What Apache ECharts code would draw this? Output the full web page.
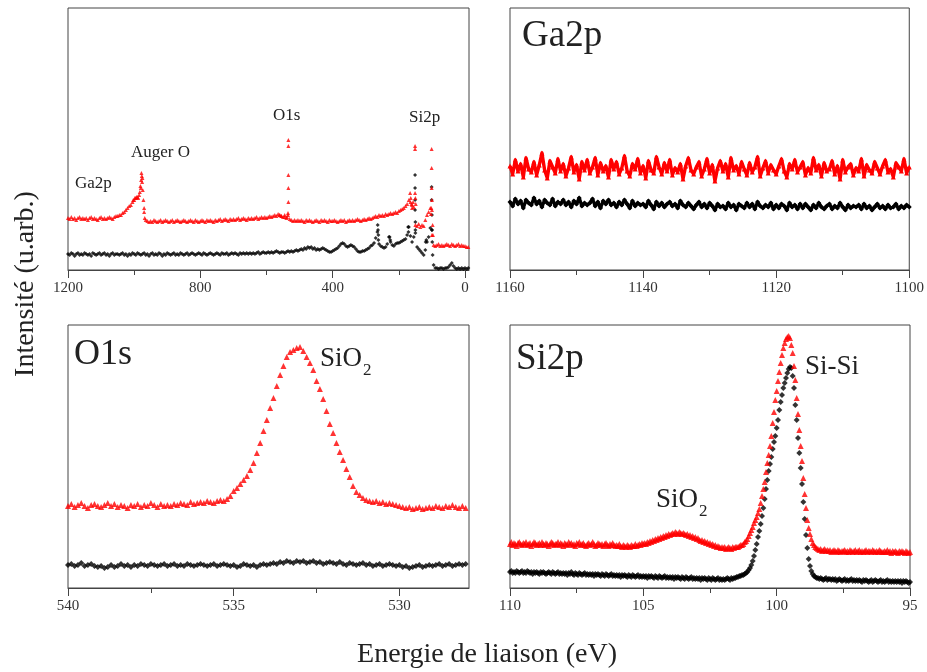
<!DOCTYPE html>
<html><head><meta charset="utf-8">
<script src="https://cdn.jsdelivr.net/npm/echarts@6.0.0/dist/echarts.min.js"></script>
<style>html,body{margin:0;padding:0;background:#fff}#c{width:927px;height:672px}</style>
</head><body><div id="c"></div>
<script>
// ---------- DATA ----------
// Survey (energy grid from 1200 eV downward, step 5 eV)
const surveyStart = 1200, surveyStep = 5;
const surveyRed = [
52,51,53,51,52,50,52,53,51,52,
51,52,50,52,53,51,52,51,50,52,
53,51,52,51,52,53,52,51,53,54,
54,55,55,57,58,60,62,64,65,68,
70,72,73,75,82,92,62,50,49,48,
49,48,50,49,48,49,50,48,49,50,
49,48,49,50,48,49,50,49,48,49,
50,49,48,49,50,49,48,50,49,48,
49,50,49,48,50,49,50,49,48,50,
49,50,51,49,50,51,50,49,51,50,
51,50,51,52,50,51,52,51,50,52,
51,52,51,52,53,51,52,53,52,53,
52,53,54,53,54,55,54,56,55,54,
53,53,52,55,51,50,49,50,49,50,
49,50,49,48,50,49,50,49,48,49,
50,49,48,50,49,50,49,48,50,49,
49,50,49,48,49,50,49,50,48,49,
50,49,50,49,50,51,50,49,50,51,
50,51,52,51,52,53,54,53,55,54,
55,54,56,55,56,57,56,57,58,57,
59,60,61,62,64,66,70,68,65,63,
45,44,46,43,45,44,50,55,58,62,
35,25,24,25,26,24,25,24,25,26,
25,24,26,25,24,25,26,24,25,24,
24,23,23];
const surveyRedPeaks = [[1003,70],[998,72],[993,73],[988,72],[983,78],[981,84],[979,90],[978,97],[977,94],[976,88],[974,80],[972,70],[970,58],[968,52],
[560,55],[555,54],[545,55],[538,53],[534,130],[534,124],[534,95],[534,82],[534,68],[535,57],
[166,77],[164,72],[162,66],[160,62],[157,68],[151,124],[151,121],[151,77],[150,72],[149,66],
[103,56],[102,62],[101,121],[101,102],[101,82],[100,70],[100,60],[98,45],[97,35]];
const surveyBlack = [
16,15,17,16,14,16,17,15,16,15,
17,16,15,16,14,17,16,15,16,17,
15,16,17,15,16,14,16,17,15,16,
16,15,16,17,15,16,14,16,15,17,
16,15,17,16,15,16,17,15,16,14,
16,17,15,16,15,17,16,14,16,15,
17,16,15,16,17,15,16,15,17,16,
15,16,17,15,16,17,16,15,16,17,
16,15,17,16,15,16,17,16,15,16,
17,16,15,17,16,16,17,15,16,17,
16,17,16,15,17,16,17,16,17,16,
17,16,17,16,17,18,16,17,18,17,
17,18,17,18,17,18,19,18,17,18,
18,17,18,19,18,19,18,19,20,19,
20,21,20,22,21,23,22,23,21,22,
20,21,20,21,22,21,20,19,18,18,
19,20,21,22,24,26,27,26,24,23,
24,25,24,23,21,19,18,18,19,19,
20,21,22,24,25,27,32,38,26,24,
23,22,23,26,33,28,25,24,26,27,
27,28,29,30,31,35,43,34,28,33,
40,23,21,19,17,15,20,28,33,42,
40,5,2,2,1,2,2,1,2,2,
3,5,7,4,2,1,2,1,2,1,
2,1,2];
const surveyBlackPeaks = [[264,45],[263,40],[262,35],[262,30],[228,33],[226,30],[172,43],[171,38],
[151,95],[151,82],[151,70],[151,60],[150,48],[150,37],[119,28],[117,30],
[101,83],[101,70],[100,55],[100,40],[99,28],[98,15]];

// Ga2p (from 1160 eV downward, step 0.4 eV)
const ga2pStart = 1160, ga2pStep = 0.4;
const ga2pRed = [
104,96,110,99,106,93,112,101,98,108,
95,105,117,100,92,109,103,97,111,99,
106,94,102,113,98,105,91,108,100,110,
97,103,112,95,107,99,104,93,110,101,
108,96,102,114,99,94,106,101,111,97,
104,92,109,100,97,113,103,96,107,99,
110,95,102,98,106,91,104,112,100,96,
103,108,94,101,111,97,105,89,102,109,
99,106,93,112,100,104,96,108,101,95,
107,98,103,113,94,102,109,97,105,100,
96,104,111,99,93,106,101,110,98,103,
108,95,102,97,112,100,105,94,107,99,
101,109,96,104,91,110,98,103,106,95,
102,99,111,94,105,100,97,108,102,96,
104,110,98,101,93,107,103,99,111,97,
103];
const ga2pBlack = [
68,64,71,66,69,62,70,67,65,72,
66,69,63,70,67,65,71,64,68,66,
70,65,68,63,69,66,72,64,67,65,
67,71,64,68,62,69,66,70,65,67,
63,68,65,70,66,62,69,64,67,65,
66,63,69,65,61,68,64,67,63,66,
68,64,66,62,69,65,63,67,64,61,
65,68,63,66,62,67,64,60,66,63,
64,61,67,63,65,60,66,64,62,67,
63,66,61,68,64,62,65,63,67,61,
65,62,66,64,60,67,63,65,61,66,
62,66,63,60,65,62,67,63,61,64,
66,61,64,62,67,63,60,65,62,64,
63,65,61,66,62,64,60,63,66,62,
64,61,65,62,63,66,61,64,62,65,
63];

// O1s (from 540 eV downward, step 0.1 eV)
const o1sStart = 540, o1sStep = 0.1;
const o1sRed = [
82,84,81,83,85,82,80,83,84,82,
81,83,85,82,84,81,83,82,80,83,
82,84,81,83,82,85,83,81,84,82,
83,82,84,83,85,84,83,86,84,85,
86,85,87,86,85,87,88,87,89,92,
97,100,104,108,112,118,125,135,145,157,
168,180,190,202,213,222,231,236,238,240,
241,237,231,225,218,207,199,189,177,164,
155,145,136,128,119,111,102,96,93,90,
88,87,86,87,85,86,84,85,84,83,
82,81,80,81,79,80,81,79,80,81,
80,82,81,80,82,81,83,81,80,82,
80];
const o1sBlack = [
23,24,22,23,25,22,23,24,22,21,
22,20,21,23,21,22,24,22,23,21,
23,22,24,23,22,24,23,22,23,24,
22,23,24,22,23,22,24,23,22,23,
24,23,22,23,24,22,23,24,23,22,
23,21,22,24,23,22,23,21,23,24,
23,24,25,24,26,25,27,26,25,27,
26,27,25,26,27,25,26,24,25,26,
25,24,26,24,23,25,24,23,24,25,
23,24,22,23,24,22,23,24,23,22,
23,21,22,20,21,22,23,21,22,23,
22,23,24,22,23,24,22,23,24,23,
24];

// Si2p (from 110 eV downward, step 0.05 eV)
const si2pStart = 110, si2pStep = 0.05;
const si2pRed = [
44,46,43,45,44,42,45,46,44,43,
45,44,46,43,44,45,42,44,46,45,
43,44,45,43,46,44,43,45,44,42,
44,46,45,43,44,44,46,43,45,44,
42,45,44,43,46,44,45,43,44,42,
45,44,46,43,44,45,43,42,44,45,
43,44,46,44,42,43,45,44,43,44,
42,44,45,43,42,44,43,45,43,42,
43,42,44,42,41,43,42,41,43,42,
41,43,42,42,44,42,43,44,43,45,
44,45,44,46,45,47,46,48,47,49,
48,50,49,51,50,52,51,53,52,54,
53,54,55,54,56,55,54,56,55,54,
55,54,53,54,52,53,51,52,50,51,
49,50,48,47,48,46,47,45,46,44,
45,43,44,42,43,41,42,41,40,41,
40,41,39,40,41,40,39,41,40,41,
41,41,42,43,43,44,46,47,49,52,
55,58,61,65,68,71,75,79,85,92,
99,106,116,125,133,142,152,165,176,188,
197,207,216,225,233,240,245,249,251,252,
250,243,235,222,208,190,174,158,142,127,
110,94,80,68,60,54,49,45,43,41,
40,39,38,39,37,38,39,37,38,37,
38,36,37,38,37,36,38,37,36,37,
37,38,36,37,36,38,37,36,37,38,
36,37,38,36,37,36,37,38,36,37,
37,36,38,37,36,37,36,38,37,36,
36,37,36,38,36,37,35,37,36,37,
36,35,37,36,37,36,35,37,36,35,
36];
const si2pBlack = [
16,17,15,16,15,17,16,15,16,17,
15,16,15,17,16,15,16,14,16,15,
16,15,14,16,15,16,15,14,15,16,
15,14,16,15,14,15,16,14,15,14,
15,14,15,13,15,14,16,14,13,15,
14,13,15,14,13,14,15,13,14,13,
14,13,14,12,14,13,14,13,12,14,
13,12,14,13,12,13,14,12,13,12,
13,12,13,11,13,12,13,12,11,13,
12,11,13,12,11,12,13,11,12,11,
12,11,12,10,12,11,12,11,10,12,
11,10,12,11,10,11,12,10,11,10,
11,10,11,9,11,10,11,10,9,11,
10,9,11,10,9,10,11,9,10,9,
10,9,10,8,10,9,10,9,8,10,
9,8,10,9,8,9,10,8,9,8,
9,8,9,10,9,8,10,9,10,10,
11,11,12,12,13,13,14,15,16,18,
20,23,27,32,38,44,51,57,64,72,
80,89,99,108,117,124,131,139,146,152,
160,168,178,186,193,200,205,210,215,219,
221,220,212,200,183,168,150,135,120,104,
86,69,53,40,29,22,17,14,12,11,
10,10,9,10,9,8,9,10,8,9,
9,8,9,8,9,7,8,9,8,7,
8,9,7,8,7,8,9,7,8,7,
8,7,8,7,6,8,7,8,7,6,
7,8,6,7,8,7,6,7,8,6,
7,6,7,8,6,7,6,7,6,7,
6,7,6,7,5,7,6,7,6,5,
6];

// Tick values
const surveyLabelTicks = [1200, 800, 400, 0];
const surveyAllTicks = [1200, 1000, 800, 600, 400, 200, 0];
const ga2pLabelTicks = [1160, 1140, 1120, 1100];
const ga2pAllTicks = [1160, 1150, 1140, 1130, 1120, 1110, 1100];
const o1sLabelTicks = [540, 535, 530];
const o1sAllTicks = [540, 537.5, 535, 532.5, 530];
const si2pLabelTicks = [110, 105, 100, 95];
const si2pAllTicks = [110, 107.5, 105, 102.5, 100, 97.5, 95];

// ---------- BUILD ----------
const FONT = '"Liberation Serif", "Times New Roman", serif';
const AX = '#444';
function onGrid(start, step, vals) {
  return vals.map((v, i) => [+(start - step * i).toFixed(3), v]);
}
const panels = [
  {left: 68, top: 8, width: 401, height: 262, min: -12, max: 1200, ymax: 262, lab: surveyLabelTicks, all: surveyAllTicks,
   red: onGrid(surveyStart, surveyStep, surveyRed).concat(surveyRedPeaks),
   black: onGrid(surveyStart, surveyStep, surveyBlack).concat(surveyBlackPeaks), size: 4, line: 0},
  {left: 510, top: 8, width: 400, height: 262, min: 1100, max: 1160, ymax: 262, lab: ga2pLabelTicks, all: ga2pAllTicks,
   red: onGrid(ga2pStart, ga2pStep, ga2pRed), black: onGrid(ga2pStart, ga2pStep, ga2pBlack), size: 5, line: 3.4},
  {left: 68, top: 325, width: 401, height: 263, min: 527.9, max: 540, ymax: 263, lab: o1sLabelTicks, all: o1sAllTicks,
   red: onGrid(o1sStart, o1sStep, o1sRed), black: onGrid(o1sStart, o1sStep, o1sBlack), size: 6, line: 0},
  {left: 510, top: 325, width: 400, height: 263, min: 95, max: 110, ymax: 263, lab: si2pLabelTicks, all: si2pAllTicks,
   red: onGrid(si2pStart, si2pStep, si2pRed), black: onGrid(si2pStart, si2pStep, si2pBlack), size: 6, line: 0}
];

const grid = [], xAxis = [], yAxis = [], series = [];
function mkSeries(p, i, data, color, symbol, z) {
  const s = {type: p.line ? 'line' : 'scatter', xAxisIndex: 2 * i, yAxisIndex: i, data: data, symbol: symbol,
    symbolSize: p.size, itemStyle: {color: color}, silent: true, z: z};
  if (p.line) { s.showSymbol = true; s.showAllSymbol = true; s.lineStyle = {color: color, width: p.line, join: 'round'}; }
  return s;
}
panels.forEach((p, i) => {
  grid.push({left: p.left, top: p.top, width: p.width, height: p.height, show: true,
    borderColor: AX, borderWidth: 1, backgroundColor: 'transparent'});
  xAxis.push({type: 'value', gridIndex: i, inverse: true, min: p.min, max: p.max, position: 'bottom',
    axisLine: {show: true, onZero: false, lineStyle: {color: AX, width: 1}},
    axisTick: {show: true, length: 8, customValues: p.lab, lineStyle: {color: AX}},
    axisLabel: {customValues: p.lab, fontSize: 15, color: '#333', fontFamily: FONT, margin: 11,
      showMinLabel: true, showMaxLabel: true, formatter: v => String(v)},
    splitLine: {show: false}});
  xAxis.push({type: 'value', gridIndex: i, inverse: true, min: p.min, max: p.max, position: 'bottom', offset: 0,
    axisLine: {show: false, onZero: false},
    axisTick: {show: true, length: 5, customValues: p.all, lineStyle: {color: AX}},
    axisLabel: {show: false}, splitLine: {show: false}});
  yAxis.push({type: 'value', gridIndex: i, min: 0, max: p.ymax, show: false, splitLine: {show: false}});
  series.push(mkSeries(p, i, p.black, '#000', 'diamond', 2));
  series.push(mkSeries(p, i, p.red, '#ff0000', 'triangle', 3));
});

function txt(x, y, s, size, align) {
  return {type: 'text', x: x, y: y, silent: true,
    style: {text: s, fontSize: size, fontFamily: FONT, fill: '#222', align: align || 'left', verticalAlign: 'middle'}};
}
const graphic = [
  txt(75, 184, 'Ga2p', 17), txt(131, 153, 'Auger O', 17), txt(273, 116, 'O1s', 17), txt(409, 118, 'Si2p', 17),
  txt(522, 36, 'Ga2p', 37), txt(74, 355, 'O1s', 36), txt(516, 359, 'Si2p', 37),
  txt(320, 359, 'SiO', 27), txt(363, 371, '2', 17),
  txt(805, 367, 'Si-Si', 27),
  txt(656, 500, 'SiO', 27), txt(699, 512, '2', 17),
  txt(487, 655, 'Energie de liaison (eV)', 28, 'center'),
  {type: 'text', x: 26, y: 284, rotation: Math.PI / 2, silent: true,
   style: {text: 'Intensité (u.arb.)', fontSize: 28, fontFamily: FONT, fill: '#222', align: 'center', verticalAlign: 'middle'}}
];

const chart = echarts.init(document.getElementById('c'), null, {renderer: 'canvas'});
chart.setOption({animation: false, backgroundColor: '#fff', grid, xAxis, yAxis, series, graphic});
</script>
</body></html>
